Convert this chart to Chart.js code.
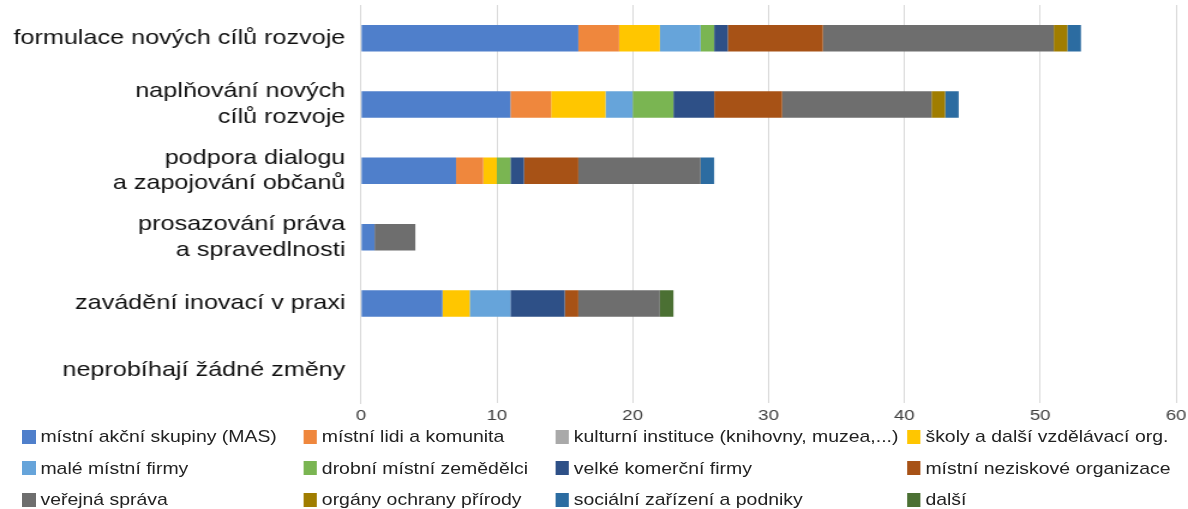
<!DOCTYPE html>
<html><head><meta charset="utf-8">
<script src="https://cdn.jsdelivr.net/npm/chart.js@4.4.0/dist/chart.umd.min.js"></script>
<style>
html,body{margin:0;padding:0;background:#fff;overflow:hidden;}
#wrap{position:relative;width:990px;height:509px;transform:scaleX(1.2);transform-origin:0 0;}
#cv{position:absolute;left:0;top:0;}
#legend{position:absolute;left:18px;top:421px;display:grid;grid-template-columns:234.5px 210px 293px 228px;grid-auto-rows:31.5px;font-family:"Liberation Sans",Arial,sans-serif;font-size:16.2px;color:#222;}
.li{display:flex;align-items:center;white-space:nowrap;}
.sw{width:11.7px;height:14px;margin-right:4px;flex:none;}
</style></head>
<body>
<div id="wrap"><div style="position:absolute;left:0;top:0;width:990px;height:425px;"><canvas id="cv"></canvas></div><div id="legend"></div></div>
<script>
const categories = [
  ["formulace nových cílů rozvoje"],
  ["naplňování nových", "cílů rozvoje"],
  ["podpora dialogu", "a zapojování občanů"],
  ["prosazování práva", "a spravedlnosti"],
  ["zavádění inovací v praxi"],
  ["neprobíhají žádné změny"]
];
const seriesNames = [
  "místní akční skupiny (MAS)", "místní lidi a komunita", "kulturní instituce (knihovny, muzea,...)", "školy a další vzdělávací org.",
  "malé místní firmy", "drobní místní zemědělci", "velké komerční firmy", "místní neziskové organizace",
  "veřejná správa", "orgány ochrany přírody", "sociální zařízení a podniky", "další"
];
const mas        = [16, 11, 7, 1, 6, 0];
const lidi       = [3, 3, 2, 0, 0, 0];
const kultura    = [0, 0, 0, 0, 0, 0];
const skoly      = [3, 4, 1, 0, 2, 0];
const maleFirmy  = [3, 2, 0, 0, 3, 0];
const zemedelci  = [1, 3, 1, 0, 0, 0];
const velkeFirmy = [1, 3, 1, 0, 4, 0];
const neziskove  = [7, 5, 4, 0, 1, 0];
const verejna    = [17, 11, 9, 3, 6, 0];
const organy     = [1, 1, 0, 0, 0, 0];
const socialni   = [1, 1, 1, 0, 0, 0];
const dalsi      = [0, 0, 0, 0, 1, 0];
const xTicks = [0, 10, 20, 30, 40, 50, 60];

const seriesValues = [mas, lidi, kultura, skoly, maleFirmy, zemedelci, velkeFirmy, neziskove, verejna, organy, socialni, dalsi];
const colors = ["#4F7FCB","#EF873D","#A9A9A9","#FFC600","#66A4DA","#7AB552","#2E5087","#A75216","#6E6E6E","#A07D00","#2C6CA1","#4B7033"];

const datasets = seriesNames.map((n,i)=>({label:n,data:seriesValues[i],backgroundColor:colors[i],borderWidth:0,categoryPercentage:1,barPercentage:0.4}));

const chart = new Chart(document.getElementById('cv'), {
  type:'bar',
  data:{labels:categories,datasets},
  options:{
    indexAxis:'y',responsive:true,maintainAspectRatio:false,animation:false,
    layout:{padding:{top:5,right:10,left:0,bottom:0}},
    plugins:{legend:{display:false},tooltip:{enabled:false}},
    scales:{
      x:{stacked:true,min:0,max:60,
        afterBuildTicks:s=>{s.ticks=xTicks.map(v=>({value:v}));},
        afterFit:s=>{s.height=22;s.paddingLeft=0;s.paddingRight=0;},
        grid:{color:"#d9d9d9",drawTicks:false,lineWidth:1},
        border:{display:false},
        ticks:{padding:3,color:"#404040",font:{family:"Liberation Sans",size:15.5}}},
      y:{stacked:true,
        afterFit:s=>{s.width=300.8;s.paddingTop=0;s.paddingBottom=0;},
        grid:{display:false,drawTicks:false},
        border:{display:true,color:"#d9d9d9"},
        ticks:{padding:13,color:"#111",font:{family:"Liberation Sans",size:21,lineHeight:1.22}}}
    }
  }
});

const lg = document.getElementById('legend');
seriesNames.forEach((n,i)=>{
  const d=document.createElement('div');d.className='li';
  const s=document.createElement('span');s.className='sw';s.style.background=colors[i];
  const t=document.createElement('span');t.textContent=n;
  d.appendChild(s);d.appendChild(t);lg.appendChild(d);
});
</script>
</body></html>
